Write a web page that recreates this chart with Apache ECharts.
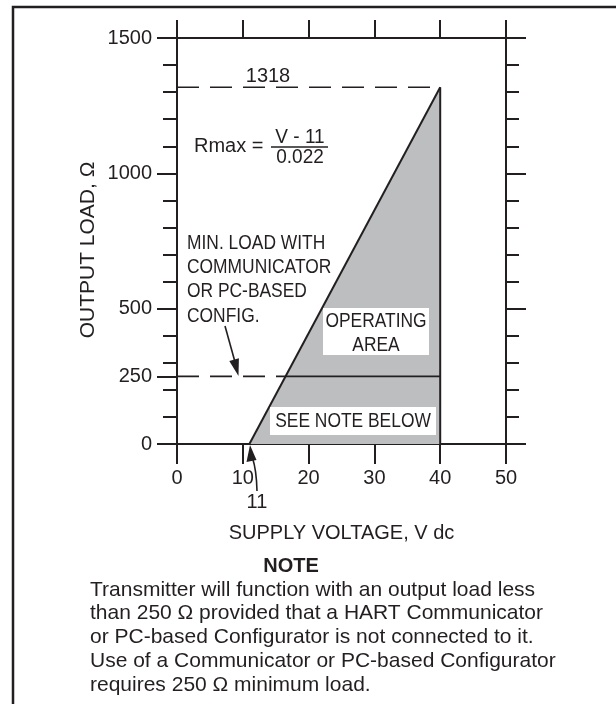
<!DOCTYPE html>
<html>
<head>
<meta charset="utf-8">
<script src="https://cdn.jsdelivr.net/npm/echarts@6/dist/echarts.min.js"></script>
<style>
  html, body { margin: 0; padding: 0; background: #fff; }
  #main { width: 616px; height: 704px; }
</style>
</head>
<body>
<div id="main"></div>
<script>
// data
const voltTicks = [0, 10, 20, 30, 40, 50]
const loadLabels = [0, 250, 500, 1000, 1500]
const maxLoadLine = [[11, 0], [40, 1318]]      // Rmax = (V - 11) / 0.022
const supplyLimit = [[40, 0], [40, 1318]]
const commLoadSolid = [[16.5, 250], [40, 250]]
const commLoadDash = [[0, 250], [16.5, 250]]
const maxLoadDash = [[0, 1318], [40, 1318]]

const ink = '#231f20'
const fillGray = '#bcbec0'
const font = '"Liberation Sans", Arial, sans-serif'
const narrow = 0.87 // the labels inside the plot use a condensed face

const chart = echarts.init(document.getElementById('main'))

// helper for a plain text element
const txt = (x, y, text, size, opts = {}, scaleX = 1) => ({
  type: 'text', x, y, z: 110, scaleX,
  style: Object.assign({
    text, fill: ink, font: `${size}px ${font}`,
    align: 'left', verticalAlign: 'middle'
  }, opts)
})

const hidden = { show: false }
const axisLine = { show: true, onZero: false, lineStyle: { color: ink, width: 2 } }
const tickStyle = { color: ink, width: 2 }

const option = {
  animation: false,
  grid: { left: 177, top: 38, width: 329, height: 406 },
  xAxis: [
    {
      type: 'value', position: 'bottom', min: voltTicks[0], max: voltTicks[voltTicks.length - 1], interval: 10,
      axisLine, splitLine: hidden,
      axisTick: { length: 20, lineStyle: tickStyle },
      axisLabel: { margin: 24, color: ink, fontSize: 20, fontFamily: font },
      name: 'SUPPLY VOLTAGE, V dc', nameLocation: 'middle', nameGap: 79,
      nameTextStyle: { color: ink, fontSize: 20, fontFamily: font }
    },
    {
      type: 'value', position: 'top', min: voltTicks[0], max: voltTicks[voltTicks.length - 1], interval: 10,
      axisLine, splitLine: hidden,
      axisTick: { length: 18, lineStyle: tickStyle },
      axisLabel: hidden
    }
  ],
  yAxis: [
    {
      // minor ticks every 100 on the left
      type: 'value', position: 'left', min: 0, max: 1500, interval: 100,
      axisLine, splitLine: hidden,
      axisTick: { length: 14, lineStyle: tickStyle },
      axisLabel: hidden
    },
    {
      type: 'value', position: 'left', min: 0, max: 1500,
      axisLine, splitLine: hidden,
      axisTick: { length: 20, lineStyle: tickStyle, customValues: loadLabels },
      axisLabel: {
        margin: 25, color: ink, fontSize: 20, fontFamily: font,
        customValues: loadLabels, formatter: v => String(v)
      }
    },
    {
      type: 'value', position: 'right', min: 0, max: 1500, interval: 100,
      axisLine, splitLine: hidden,
      axisTick: { length: 13, lineStyle: tickStyle },
      axisLabel: hidden
    },
    {
      type: 'value', position: 'right', min: 0, max: 1500, interval: 500,
      axisLine, splitLine: hidden,
      axisTick: { length: 20, lineStyle: tickStyle },
      axisLabel: hidden
    }
  ],
  series: [
    {
      // operating area: filled down to 0 under the Rmax line
      type: 'line', data: maxLoadLine, symbol: 'none', z: 3,
      lineStyle: { color: ink, width: 2 },
      areaStyle: { color: fillGray, opacity: 1 }
    },
    {
      type: 'line', data: supplyLimit, symbol: 'none', z: 4,
      lineStyle: { color: ink, width: 2 }
    },
    {
      type: 'line', data: commLoadSolid, symbol: 'none', z: 4,
      lineStyle: { color: ink, width: 1.8 }
    },
    {
      type: 'line', data: commLoadDash, symbol: 'none', z: 4,
      lineStyle: { color: ink, width: 1.6, type: [22, 11] }
    },
    {
      type: 'line', data: maxLoadDash, symbol: 'none', z: 4,
      lineStyle: { color: ink, width: 1.6, type: [22, 11] }
    }
  ],
  graphic: [
    // outer frame
    { type: 'polyline', z: 100, shape: { points: [[13, 704], [13, 7], [616, 7]] },
      style: { stroke: ink, lineWidth: 2.5, fill: null } },

    // y axis title
    { type: 'text', x: 88, y: 250, rotation: Math.PI / 2, z: 110,
      style: { text: 'OUTPUT LOAD, Ω', fill: ink, font: `21px ${font}`, align: 'center', verticalAlign: 'middle' } },

    txt(268, 76, String(maxLoadLine[1][1]), 20, { align: 'center' }),

    // Rmax formula
    txt(194, 146, 'Rmax =', 20),
    txt(300, 137, 'V - 11', 20, { align: 'center' }, 0.95),
    txt(300, 157, '0.022', 20, { align: 'center' }, 0.95),
    { type: 'line', z: 110, shape: { x1: 271, y1: 147, x2: 328, y2: 147 },
      style: { stroke: ink, lineWidth: 1.5 } },

    // min load note
    { type: 'text', x: 187, y: 231, z: 110, scaleX: narrow,
      style: { text: 'MIN. LOAD WITH\nCOMMUNICATOR\nOR PC-BASED\nCONFIG.', fill: ink,
        font: `20px ${font}`, lineHeight: 24.3, align: 'left', verticalAlign: 'top' } },
    { type: 'line', z: 110, shape: { x1: 225, y1: 326, x2: 235, y2: 362 },
      style: { stroke: ink, lineWidth: 1.6 } },
    { type: 'polygon', z: 110, shape: { points: [[238.5, 376], [238.9, 358.3], [229.3, 360.9]] },
      style: { fill: ink } },

    // operating area box
    { type: 'rect', z: 105, shape: { x: 323, y: 308, width: 106, height: 47 }, style: { fill: '#fff' } },
    txt(376, 321, 'OPERATING', 20, { align: 'center' }, narrow),
    txt(376, 345, 'AREA', 20, { align: 'center' }, narrow),

    // see note box
    { type: 'rect', z: 105, shape: { x: 270, y: 407, width: 166, height: 28 }, style: { fill: '#fff' } },
    txt(353, 421, 'SEE NOTE BELOW', 20, { align: 'center' }, narrow),

    // 11 V marker with curved arrow
    txt(257, 502, String(maxLoadLine[0][0]), 20, { align: 'center' }),
    { type: 'bezierCurve', z: 110,
      shape: { x1: 252.5, y1: 458, cpx1: 256.5, cpy1: 470, x2: 257, y2: 491 },
      style: { stroke: ink, lineWidth: 1.6, fill: null } },
    { type: 'polygon', z: 110, shape: { points: [[250, 445], [246.5, 462], [256.5, 460]] },
      style: { fill: ink } },

    // note below
    txt(291, 566, 'NOTE', 20, { align: 'center', font: `bold 20px ${font}` }),
    { type: 'text', x: 90, y: 578, z: 110,
      style: {
        text: 'Transmitter will function with an output load less\n' +
              'than 250 Ω provided that a HART Communicator\n' +
              'or PC-based Configurator is not connected to it.\n' +
              'Use of a Communicator or PC-based Configurator\n' +
              'requires 250 Ω minimum load.',
        fill: ink, font: `21px ${font}`, lineHeight: 23.8, align: 'left', verticalAlign: 'top'
      } }
  ]
}

chart.setOption(option)
window.onresize = () => {
  chart.resize()
}
</script>
</body>
</html>
